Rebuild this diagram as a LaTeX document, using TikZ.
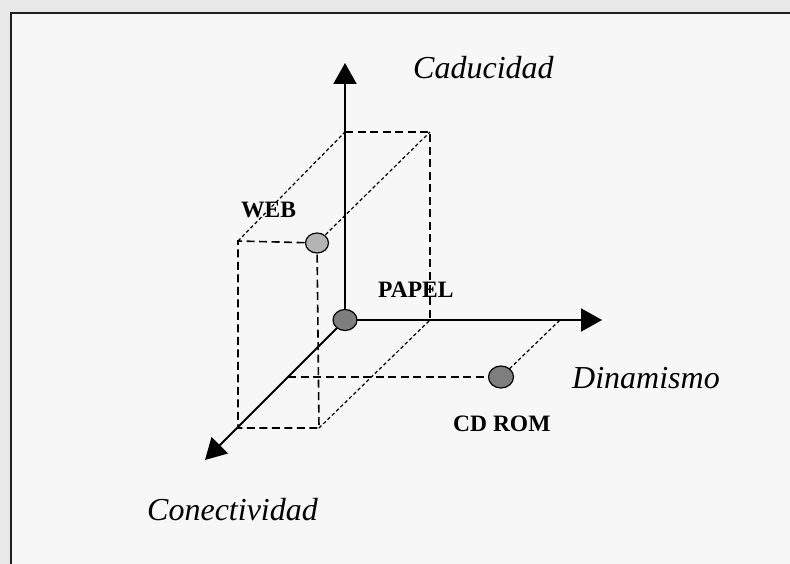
\documentclass[tikz,border=0pt]{standalone}
\usepackage{fontspec}
\setmainfont{Liberation Serif}
\usetikzlibrary{arrows.meta,shapes.geometric}
\definecolor{outbg}{HTML}{E8E8E8}
\definecolor{inbg}{HTML}{F7F7F7}
\definecolor{framecol}{HTML}{1E1E1E}
\definecolor{darkpt}{HTML}{7E7E7E}
\definecolor{lightpt}{HTML}{B4B4B4}
\tikzset{
  axisline/.style={line width=2pt, -{Triangle[length=21pt,width=23pt]}},
  boxdash/.style={line width=1.6pt, dash pattern=on 8pt off 4.5pt},
  boxdot/.style={line width=1.2pt, dash pattern=on 3.5pt off 2.5pt},
  ptnode/.style={ellipse, draw=black, line width=1.2pt, minimum width=24pt, minimum height=21pt, inner sep=0pt},
  axlabel/.style={font=\fontsize{32}{36}\selectfont\itshape, inner sep=0pt},
  ptlabel/.style={font=\fontsize{23.5}{26}\selectfont\bfseries, inner sep=0pt}
}
\begin{document}
\begin{tikzpicture}[x=1pt,y=-1pt]
\useasboundingbox (0,0) rectangle (790,564);
\fill[outbg] (0,0) rectangle (790,564);
\filldraw[fill=inbg, draw=framecol, line width=2.4pt] (11,13) rectangle (805,585);
% coordinates
\coordinate (O) at (345,320);
\coordinate (ytip) at (345,63);
\coordinate (xtip) at (602,320);
\coordinate (ztip) at (205,460);
\coordinate (btl) at (345,132);
\coordinate (btr) at (430,132);
\coordinate (bbr) at (430,320);
\coordinate (ftl) at (238,241);
\coordinate (W) at (317,243);
\coordinate (fbl) at (238,428);
\coordinate (fbr) at (319,428);
\coordinate (zmid) at (288,377);
\coordinate (C) at (501,377);
\coordinate (xmid) at (560,320);
% box edges
\draw[boxdash] (btl) -- (btr) -- (bbr);
\draw[boxdot] (ftl) -- (btl);
\draw[boxdot] (W) -- (btr);
\draw[boxdash] (W) -- (ftl) -- (fbl) -- (fbr) -- (W);
\draw[boxdot] (fbr) -- (bbr);
\draw[boxdash] (zmid) -- (C);
\draw[boxdot] (C) -- (xmid);
% axes
\draw[axisline] (O) -- (ytip);
\draw[axisline] (O) -- (xtip);
\draw[axisline] (O) -- (ztip);
% points
\node[ptnode, fill=darkpt] (papel) at (O) {};
\node[ptnode, fill=lightpt, minimum width=23pt, minimum height=20pt] (web) at (W) {};
\node[ptnode, fill=darkpt, minimum width=25pt, minimum height=22pt] (cdrom) at (C) {};
% labels
\node[axlabel, anchor=base west] (lcad) at (413,79) {Caducidad};
\node[axlabel, anchor=base west] (ldin) at (572,388) {Dinamismo};
\node[axlabel, anchor=base west] (lcon) at (147,520) {Conectividad};
\node[ptlabel, anchor=base west] (lweb) at (241,218) {WEB};
\node[ptlabel, anchor=base west] (lpap) at (378,298) {PAPEL};
\node[ptlabel, anchor=base west] (lcd) at (453,431) {CD ROM};
\end{tikzpicture}
\end{document}
